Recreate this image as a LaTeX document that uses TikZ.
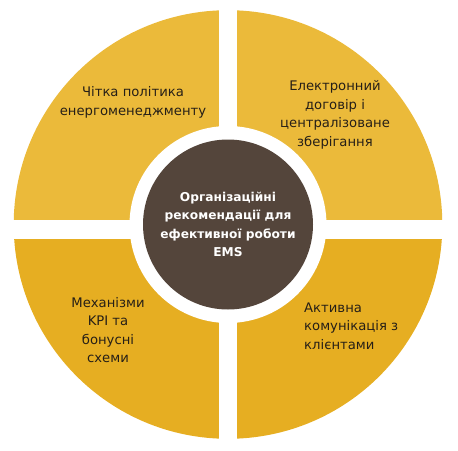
\documentclass[tikz,border=0pt]{standalone}
\usepackage{fontspec}
\setmainfont{DejaVu Sans}
\definecolor{topgold}{HTML}{EBBA3A}
\definecolor{botgold}{HTML}{E6AE22}
\definecolor{hubbrown}{HTML}{54453B}
\definecolor{textdark}{HTML}{261F17}
\begin{document}
\begin{tikzpicture}[x=1pt,y=-1pt,
  lbl/.style={text=textdark, font=\fontsize{13.2}{18.6}\selectfont, align=center, inner sep=0pt},
  hubtext/.style={circle, fill=hubbrown, minimum size=170pt, inner sep=0pt, text=white,
    font=\fontsize{12.2}{18.3}\selectfont\bfseries, align=center}]
\useasboundingbox (0,0) rectangle (458,450);
\begin{scope}
  \clip (228,224.5) circle[radius=214.3];
  \fill[topgold] (0,0) rectangle (458,229);
  \fill[botgold] (0,229) rectangle (458,450);
\end{scope}
\fill[white] (219.2,0) rectangle (237,450);
\fill[white] (0,220) rectangle (458,238.6);
\fill[white] (228,224.5) circle[radius=98.5];
\node[hubtext] (hub) at (228,224.5) {Організаційні\\рекомендації для\\ефективної роботи\\EMS};
\node[lbl] (tl) at (133,102.5) {Чітка політика\\енергоменеджменту};
\node[lbl] (tr) at (335,115) {Електронний\\договір і\\централізоване\\зберігання};
\node[lbl] (bl) at (108,330) {Механізми\\KPI та\\бонусні\\схеми};
\node[lbl, align=left, anchor=west] (br) at (304,326) {Активна\\комунікація з\\клієнтами};
\end{tikzpicture}
\end{document}
